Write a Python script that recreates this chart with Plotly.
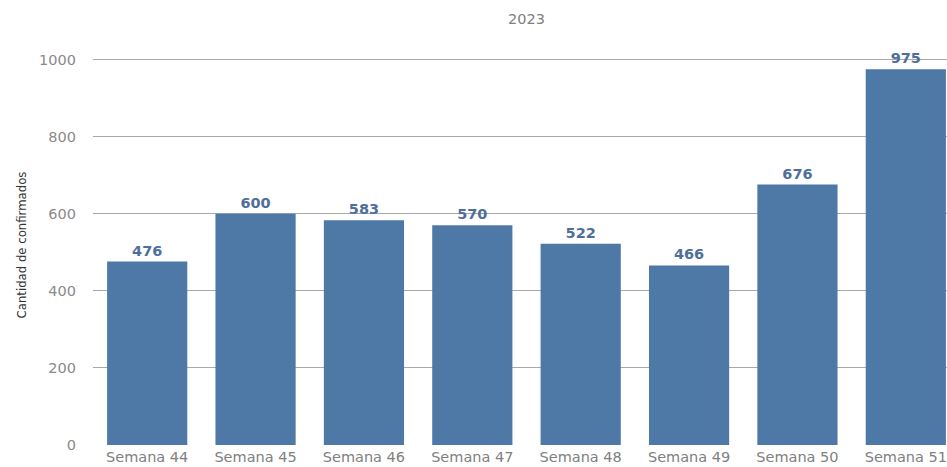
import plotly.graph_objects as go

categories = ["Semana 44", "Semana 45", "Semana 46", "Semana 47", "Semana 48", "Semana 49", "Semana 50", "Semana 51"]
values = [476, 600, 583, 570, 522, 466, 676, 975]
y_ticks = [0, 200, 400, 600, 800, 1000]

fig = go.Figure(go.Bar(
    x=categories, y=values,
    marker=dict(color="#4e79a7", line=dict(width=0)),
    text=[str(v) for v in values],
    textposition="outside",
    textfont=dict(family="DejaVu Sans", size=14.5, color="#4f6f9b", weight="bold"),
    cliponaxis=False,
))

fig.update_layout(
    width=947, height=467,
    margin=dict(l=93, r=0, t=45, b=22),
    paper_bgcolor="white", plot_bgcolor="white",
    bargap=0.26,
    showlegend=False,
    title=dict(text="2023", x=(93 + 960) / 2 / 947, xanchor="center", y=1 - 19 / 467, yanchor="middle",
               font=dict(family="DejaVu Sans", size=14.5, color="#808080")),
    xaxis=dict(range=[-0.5, 7.38], showgrid=False, showline=False, ticks="",
               tickfont=dict(family="DejaVu Sans", size=14.5, color="#808080"), ticklabelstandoff=1),
    yaxis=dict(range=[0, 1038], tickvals=y_ticks, showgrid=True, gridcolor="#a8a8a8", gridwidth=1,
               zeroline=False, showline=False, ticks="",
               tickfont=dict(family="DejaVu Sans", size=14.5, color="#8a8a8a"), ticklabelstandoff=16,
               title=dict(text="Cantidad de confirmados", standoff=9,
                          font=dict(family="Liberation Sans Narrow, DejaVu Sans Condensed, Arial Narrow", size=13, color="#333333"))),
)

fig.write_html("out.html", config={"displayModeBar": False},
               post_script="document.body.style.margin='0';document.body.style.padding='0';")
